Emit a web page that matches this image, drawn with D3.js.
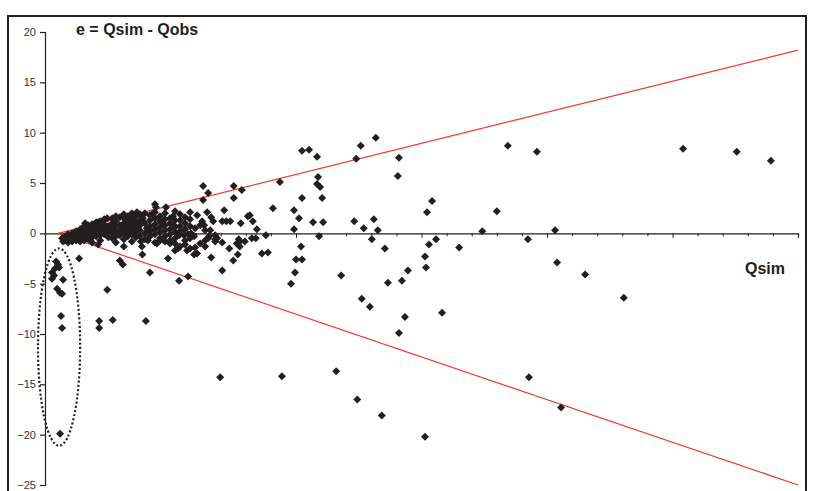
<!DOCTYPE html>
<html><head><meta charset="utf-8">
<script src="https://cdn.jsdelivr.net/npm/d3@7"></script>
<style>html,body{margin:0;padding:0;background:#fff;overflow:hidden}</style>
</head><body>
<svg id="c" width="815" height="491"></svg>
<script>
const title = "e = Qsim - Qobs";
const xLabel = "Qsim";
const yTicks = [-25, -20, -15, -10, -5, 0, 5, 10, 15, 20];
const xMinorTicks = d3.range(0, 151, 5);
const xMajorTicks = d3.range(0, 151, 25);
// observed points: Qsim and error e
const qsim = [
127.1,137.8,144.6,115.3,107.6,102.0,101.6,96.2,98.0,92.2,90.0,87.1,82.5,79.1,77.1,76.1,76.5,77.9,75.7,75.9,75.7,72.3,71.1,68.3,67.7,70.5,70.3,71.7,70.5,64.7,63.1,67.1,62.2,58.0,47.2,34.9,96.4,102.8,
65.9,62.9,62.0,51.2,52.6,54.2,54.4,54.2,54.8,51.2,55.2,46.8,39.2,37.6,37.6,31.5,32.5,31.5,45.4,49.6,50.6,53.4,55.4,49.6,54.6,51.0,50.0,51.2,49.8,49.0,59.0,61.6,63.5,65.5,66.3,65.1,
44.4,43.2,42.2,44.0,40.4,41.4,39.0,40.8,35.7,32.3,33.1,33.5,31.3,31.7,35.3,36.1,36.9,33.9,32.7,31.9,33.9,38.6,38.8,41.2,42.0,36.7,33.1,38.4,37.5,35.3,
30.3,25.5,22.1,24.1,21.5,25.7,23.3,19.5,20.3,29.9,30.9,31.9,32.9,26.7,27.7,28.5,29.1,29.7,32.5,34.3,26.5,25.9,29.9,28.9,29.7,24.5,19.4,14.9,15.5,20.9,26.7,28.5,12.4,10.8,10.8,13.5,20.1,6.8,10.6,15.7,3.6,22.3,19.3,18.3,12.4,14.9,8.0,10.6,
2.2,2.6,2.0,2.8,1.4,1.8,1.4,3.6,2.4,3.0,3.4,3.2,3.4,3.0,
25.9,26.9,27.9,30.9,31.9,33.9,35.3,38.2,39.8,28.3,30.3,19.1,20.5,21.9,22.9,23.9,24.9,21.9,38.8,
3.4,4.0,4.0,4.6,4.6,4.6,5.4,5.4,5.4,6.2,6.2,6.2,7.0,7.0,7.0,7.0,7.8,7.8,7.8,7.8,8.6,8.6,8.6,8.6,
9.4,9.4,9.4,9.4,9.4,10.2,10.2,10.2,10.2,11.0,11.0,11.0,11.0,11.0,11.8,11.8,11.8,11.8,12.6,12.6,12.6,
13.4,13.4,13.4,13.4,13.4,14.1,14.1,14.1,14.1,14.1,14.1,14.9,14.9,14.9,15.7,15.7,15.7,15.7,15.7,15.7,
16.5,16.5,16.5,16.5,16.5,17.3,17.3,17.3,17.3,17.3,17.3,18.1,18.1,18.1,18.1,18.1,18.9,18.9,18.9,18.9,18.9,
19.9,19.9,19.9,19.9,20.9,20.9,20.9,20.9,20.9,21.9,21.9,21.9,21.9,21.9,22.9,22.9,22.9,22.9,22.9,
23.9,23.9,23.9,23.9,23.9,24.9,24.9,24.9,24.9,24.9,25.9,25.9,25.9,25.9,25.9,26.9,26.9,26.9,26.9,
27.9,27.9,27.9,27.9,28.9,28.9,28.9,28.9
];
const err = [
8.4,8.1,7.2,-6.4,-4.1,-2.9,0.3,-0.6,8.1,8.7,2.2,0.2,-1.4,-7.9,3.2,2.1,-1.1,-0.6,-2.3,-3.4,-20.2,-3.7,-4.7,-4.9,-1.5,7.5,5.7,-8.3,-9.9,-7.3,-6.5,-18.1,-16.5,-13.7,-14.2,-14.3,-14.3,-17.3,
9.5,8.7,7.4,8.2,8.3,7.6,5.6,4.9,4.6,3.5,3.5,5.1,4.3,4.7,3.5,4.7,4.0,3.3,2.5,2.3,1.5,1.1,1.1,0.4,-0.3,-1.3,-2.6,-2.6,-3.9,-5.0,-4.2,1.2,0.5,1.4,0.3,-0.6,
-1.9,-2.0,0.4,-0.2,1.7,1.2,1.0,1.8,2.3,2.1,1.6,1.2,1.2,0.8,1.2,1.2,1.2,-0.2,-0.3,-0.7,-0.6,-0.6,-0.8,-0.5,-0.5,-1.5,-2.4,-2.1,-2.7,-3.7,
1.8,1.7,2.6,2.6,2.0,0.8,1.0,1.5,0.5,0.5,0.8,0.3,0.3,-0.2,-0.2,-0.1,0.0,-0.3,-0.5,-0.5,-1.5,-1.7,-1.4,-1.5,-2.1,-2.5,-2.1,-2.7,-3.1,-3.9,-4.7,-4.3,-5.6,-8.7,-9.4,-8.6,-8.7,-2.5,-1.1,-1.3,-0.8,-1.0,-1.3,2.1,1.5,1.6,1.0,1.1,
-2.8,-3.1,-3.5,-3.4,-3.9,-4.2,-4.5,-4.6,-5.5,-5.9,-6.0,-8.2,-9.4,-19.9,
-1.0,-1.3,-1.1,-1.0,-1.3,-0.8,-0.9,-1.0,-0.8,-1.7,-2.0,-0.8,-0.7,-0.9,-0.7,-0.8,-1.0,2.9,-1.3,
-0.5,-0.3,-0.7,-0.1,-0.5,-0.9,0.0,-0.4,-0.8,0.2,-0.2,-0.7,0.4,0.0,-0.4,-0.8,0.7,0.2,-0.3,-0.7,0.8,0.4,-0.1,-0.6,
0.9,0.5,0.1,-0.4,-0.9,1.1,0.6,0.2,-0.3,1.2,0.7,0.3,-0.2,-0.7,1.4,0.9,0.4,-0.1,0.7,0.2,-0.4,
1.5,1.0,0.5,0.0,-0.5,1.7,1.2,0.7,0.2,-0.3,-0.9,0.8,0.3,-0.2,1.9,1.5,1.0,0.5,0.0,-0.6,
1.7,1.2,0.7,0.2,-0.3,2.0,1.4,0.9,0.4,-0.1,-0.8,1.7,1.1,0.6,0.1,-0.4,1.9,1.3,0.8,0.3,-0.3,
2.0,1.0,0.0,-0.6,1.8,1.3,0.7,0.2,-0.3,2.1,1.5,0.9,0.4,-0.1,1.7,1.2,0.6,0.1,-0.5,
2.0,1.4,0.8,0.3,-0.3,1.5,1.0,0.4,-0.1,-0.7,2.2,1.3,0.6,0.1,-0.5,1.9,1.3,0.7,0.2,
1.6,1.0,0.4,-0.7,2.1,1.4,0.7,-0.5
];
// envelope lines (Qsim, e)
const upperLine = [[2.6, 0], [150, 18.2]];
const lowerLine = [[2.6, 0], [150, -25.0]];
// dotted ellipse annotation: centre (Qsim, e) and radii in data units
const ellipseCentre = [2.8, -11.3];
const ellipseRadii = [4.2, 9.8];

const svg = d3.select("#c");
const ink = "#231f20";
const x = d3.scaleLinear().domain([0, 150]).range([45, 798]);
const y = d3.scaleLinear().domain([-25, 20]).range([485, 32]);

// frame
svg.append("rect").attr("x", 8).attr("y", 16).attr("width", 798).attr("height", 490)
  .attr("fill", "none").attr("stroke", ink).attr("stroke-width", 2);

// y axis
const yAxis = d3.axisLeft(y).tickValues(yTicks).tickSize(5).tickPadding(4).tickFormat(d3.format("d"));
const gy = svg.append("g").attr("transform", `translate(${x(0)},0)`).call(yAxis);
gy.select(".domain").attr("stroke", ink).attr("stroke-width", 1.2);
gy.selectAll(".tick line").attr("stroke", ink).attr("stroke-width", 1.2);
gy.selectAll(".tick text").attr("font-family", "Liberation Sans, Arial, sans-serif")
  .attr("font-size", 11).attr("fill", "#333");

// x axis at e = 0
const gx = svg.append("g").attr("transform", `translate(0,${y(0)})`)
  .call(d3.axisBottom(x).tickValues(xMinorTicks).tickSize(3).tickFormat(""));
gx.select(".domain").attr("stroke", ink).attr("stroke-width", 1.2);
gx.selectAll(".tick line").attr("stroke", ink).attr("stroke-width", 1)
  .attr("y2", d => xMajorTicks.includes(d) ? 4.5 : 3);

// envelope lines
const line = d3.line().x(d => x(d[0])).y(d => y(d[1]));
[upperLine, lowerLine].forEach(l =>
  svg.append("path").attr("d", line(l)).attr("fill", "none").attr("stroke", "#ee3a2c").attr("stroke-width", 1.2));

// ellipse
svg.append("ellipse")
  .attr("cx", x(ellipseCentre[0])).attr("cy", y(ellipseCentre[1]))
  .attr("rx", x(ellipseRadii[0]) - x(0)).attr("ry", y(0) - y(ellipseRadii[1]))
  .attr("fill", "none").attr("stroke", ink).attr("stroke-width", 2.2).attr("stroke-dasharray", "2,2.2");

// points
const diamond = "M0,-4L4,0L0,4L-4,0Z";
svg.append("g").selectAll("path").data(d3.range(qsim.length)).join("path")
  .attr("d", diamond)
  .attr("transform", i => `translate(${x(qsim[i])},${y(err[i])})`)
  .attr("fill", ink);

// labels
svg.append("text").attr("x", 76).attr("y", 34.5).text(title)
  .attr("font-family", "Liberation Sans, Arial, sans-serif").attr("font-weight", "bold")
  .attr("font-size", 16).attr("fill", ink);
svg.append("text").attr("x", 745).attr("y", 274).text(xLabel)
  .attr("font-family", "Liberation Sans, Arial, sans-serif").attr("font-weight", "bold")
  .attr("font-size", 16).attr("fill", ink);
</script>
</body></html>
